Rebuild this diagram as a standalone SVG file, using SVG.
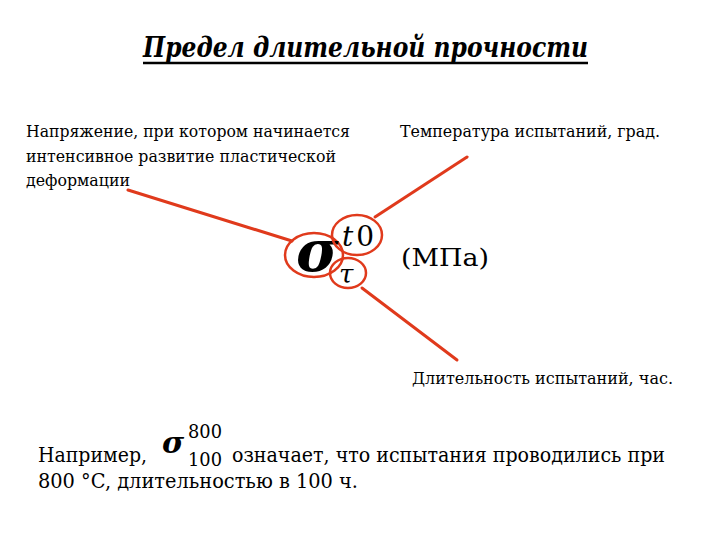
<svg xmlns="http://www.w3.org/2000/svg" width="720" height="540" viewBox="0 0 720 540">
<style>
text{font-family:"DejaVu Serif","Liberation Serif","Times New Roman",serif;fill:#000}
.lbl{font-size:16px}
.ring{fill:none;stroke:#e03a1c;stroke-width:2.5}
.con{stroke:#e03a1c;stroke-width:3;fill:none;stroke-linecap:round}
</style>
<rect width="720" height="540" fill="#fff"/>
<g id="title">
<text x="143" y="57" font-size="28" font-weight="bold" font-style="italic" textLength="445" lengthAdjust="spacingAndGlyphs">Предел длительной прочности</text>
<line x1="143" y1="63" x2="588" y2="63" stroke="#000" stroke-width="2.5"/>
</g>
<g id="connectors">
<line class="con" x1="128" y1="190" x2="292" y2="241"/>
<line class="con" x1="375" y1="217" x2="467" y2="157"/>
<line class="con" x1="362" y1="288" x2="457" y2="360"/>
</g>
<g id="label-stress">
<text class="lbl" x="26" y="137" textLength="324" lengthAdjust="spacingAndGlyphs">Напряжение, при котором начинается</text>
<text class="lbl" x="26" y="162" textLength="310" lengthAdjust="spacingAndGlyphs">интенсивное развитие пластической</text>
<text class="lbl" x="26" y="186" textLength="104" lengthAdjust="spacingAndGlyphs">деформации</text>
</g>
<g id="label-temp">
<text class="lbl" x="400" y="137" textLength="260" lengthAdjust="spacingAndGlyphs">Температура испытаний, град.</text>
</g>
<g id="label-time">
<text class="lbl" x="412" y="384" textLength="261" lengthAdjust="spacingAndGlyphs">Длительность испытаний, час.</text>
</g>
<g id="node-sigma">
<ellipse class="ring" cx="314" cy="255" rx="29" ry="22"/>
<text x="296" y="271" font-size="58" font-weight="bold" font-style="italic">σ</text>
</g>
<g id="node-t0">
<ellipse class="ring" cx="357" cy="235" rx="25" ry="20"/>
<text x="342" y="246" font-size="28"><tspan font-style="italic">t</tspan><tspan dx="3">0</tspan></text>
</g>
<g id="node-tau">
<ellipse class="ring" cx="348" cy="273" rx="18" ry="15"/>
<text x="339" y="283" font-size="26" font-style="italic">τ</text>
</g>
<g id="label-unit">
<text x="401" y="266" font-size="25" textLength="88" lengthAdjust="spacingAndGlyphs">(МПа)</text>
</g>
<g id="example">
<text x="38" y="462" font-size="21" textLength="109" lengthAdjust="spacingAndGlyphs">Например,</text>
<text x="162" y="453" font-size="30" font-weight="bold" font-style="italic">σ</text>
<text x="188" y="438" font-size="18" textLength="34" lengthAdjust="spacingAndGlyphs">800</text>
<text x="188" y="466" font-size="18" textLength="34" lengthAdjust="spacingAndGlyphs">100</text>
<text x="232" y="462" font-size="21" textLength="433" lengthAdjust="spacingAndGlyphs">означает, что испытания проводились при</text>
<text x="38" y="488" font-size="21" textLength="320" lengthAdjust="spacingAndGlyphs">800 °C, длительностью в 100 ч.</text>
</g>
</svg>
